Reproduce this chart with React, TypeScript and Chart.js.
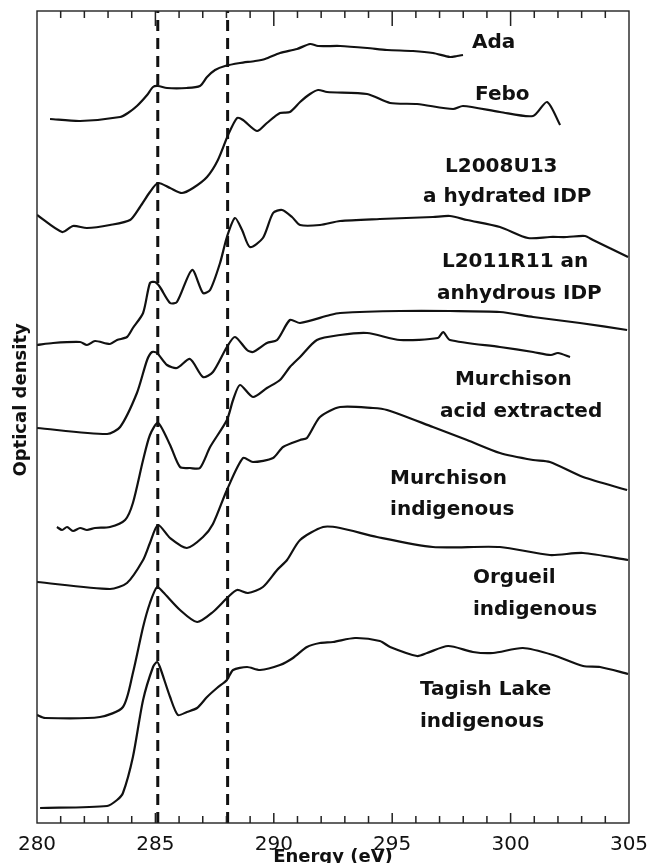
import React, { useEffect, useRef } from "react";
import { Chart, registerables } from "chart.js";

Chart.register(...registerables);

// ---- Data (energy in eV, optical density in arbitrary offset units) ----
const adaEnergy = [280.55, 281.82, 283.51, 283.84, 284.22, 284.65, 284.9, 285.11, 285.49, 286.33, 286.88, 287.18, 287.52, 287.94, 288.57, 289.21, 289.63, 290.26, 290.98, 291.53, 291.87, 292.8, 293.94, 294.78, 295.88, 296.72, 297.44, 297.74, 297.99];
const adaOD = [70.4, 70.2, 70.6, 71.0, 71.7, 72.8, 73.6, 73.7, 73.5, 73.5, 73.7, 74.6, 75.3, 75.7, 76.0, 76.2, 76.4, 77.0, 77.4, 77.9, 77.7, 77.7, 77.5, 77.3, 77.2, 77.0, 76.6, 76.7, 76.8];

const feboEnergy = [280.0, 281.06, 281.52, 282.11, 283.08, 283.93, 284.35, 284.77, 285.11, 285.62, 286.12, 286.59, 287.18, 287.64, 288.07, 288.45, 288.7, 289.29, 289.71, 290.26, 290.68, 291.11, 291.53, 291.87, 292.25, 293.94, 294.91, 296.05, 297.57, 297.99, 299.55, 300.95, 301.54, 302.09];
const feboOD = [60.8, 59.1, 59.7, 59.5, 59.8, 60.3, 61.6, 63.1, 64.0, 63.5, 63.0, 63.5, 64.6, 66.3, 68.8, 70.5, 70.3, 69.2, 70.0, 71.0, 71.1, 72.1, 72.9, 73.3, 73.1, 72.9, 72.0, 71.9, 71.4, 71.7, 71.1, 70.7, 72.1, 69.8];

const l2008Energy = [280.0, 280.68, 281.82, 282.11, 282.45, 283.08, 283.38, 283.8, 284.05, 284.48, 284.77, 284.98, 285.19, 285.62, 285.91, 286.55, 287.01, 287.31, 287.73, 288.02, 288.36, 288.66, 288.99, 289.54, 289.97, 290.35, 290.77, 291.11, 291.95, 292.8, 294.48, 296.72, 297.44, 298.16, 299.55, 300.73, 301.66, 302.38, 303.14, 303.48, 304.96];
const l2008OD = [47.8, 48.0, 48.1, 47.8, 48.2, 47.9, 48.3, 48.6, 49.5, 51.0, 54.0, 54.1, 53.6, 52.0, 52.1, 55.3, 53.0, 53.3, 56.0, 58.6, 60.5, 59.3, 57.6, 58.5, 61.0, 61.3, 60.6, 59.8, 59.8, 60.2, 60.4, 60.6, 60.7, 60.3, 59.6, 58.5, 58.6, 58.6, 58.7, 58.3, 56.6];

const l2011Energy = [280.0, 282.96, 283.51, 284.22, 284.65, 284.86, 285.07, 285.49, 285.91, 286.46, 287.01, 287.43, 288.02, 288.36, 288.87, 289.12, 289.71, 290.14, 290.68, 291.11, 292.37, 292.8, 295.33, 297.44, 299.55, 300.95, 302.93, 304.92];
const l2011OD = [39.5, 38.9, 39.6, 43.0, 46.3, 47.1, 47.0, 45.8, 45.5, 46.4, 44.6, 45.1, 47.6, 48.6, 47.3, 47.1, 48.0, 48.3, 50.3, 50.0, 50.8, 51.0, 51.2, 51.2, 51.1, 50.6, 50.0, 49.3];

const murchAcidEnergy = [280.84, 281.06, 281.27, 281.52, 281.82, 282.11, 282.45, 283.08, 283.72, 284.05, 284.48, 284.77, 285.11, 285.62, 286.04, 286.46, 286.88, 287.31, 288.02, 288.28, 288.57, 289.12, 289.71, 290.26, 290.68, 291.11, 291.82, 292.8, 293.94, 295.33, 296.93, 297.15, 297.44, 299.55, 300.95, 301.7, 302.0, 302.51];
const murchAcidOD = [29.6, 29.3, 29.6, 29.2, 29.5, 29.3, 29.5, 29.6, 30.3, 32.0, 36.3, 38.8, 40.0, 37.8, 35.6, 35.5, 35.5, 37.6, 40.3, 42.3, 43.8, 42.6, 43.5, 44.3, 45.6, 46.6, 48.3, 48.8, 49.0, 48.3, 48.5, 49.1, 48.3, 47.6, 47.1, 46.8, 47.0, 46.6];

const murchIndEnergy = [280.0, 283.08, 283.8, 284.48, 284.77, 285.11, 285.62, 286.33, 287.01, 287.43, 288.02, 288.7, 289.12, 289.97, 290.39, 291.11, 291.4, 291.95, 292.8, 294.19, 294.78, 296.72, 298.16, 299.55, 300.95, 301.66, 303.06, 304.92];
const murchIndOD = [24.1, 23.4, 24.0, 26.3, 28.0, 29.8, 28.5, 27.5, 28.6, 29.9, 33.3, 36.5, 36.1, 36.5, 37.6, 38.3, 38.5, 40.6, 41.6, 41.5, 41.3, 39.6, 38.3, 37.0, 36.3, 36.1, 34.6, 33.3];

const orgueilEnergy = [280.0, 280.34, 282.66, 283.63, 284.05, 284.48, 284.77, 285.07, 285.32, 286.04, 286.76, 287.43, 288.07, 288.45, 288.91, 289.54, 290.14, 290.56, 291.11, 292.08, 292.8, 294.36, 296.72, 299.55, 301.66, 303.06, 304.96];
const orgueilOD = [10.8, 10.5, 10.6, 11.6, 15.0, 19.6, 22.0, 23.6, 23.1, 21.3, 20.1, 21.1, 22.6, 23.3, 23.0, 23.6, 25.3, 26.3, 28.3, 29.6, 29.5, 28.6, 27.6, 27.6, 26.8, 27.0, 26.3];

const tagishEnergy = [280.13, 282.96, 283.38, 283.63, 284.05, 284.48, 284.9, 285.07, 285.19, 285.62, 285.95, 286.33, 286.76, 287.18, 287.6, 288.02, 288.28, 288.87, 289.42, 290.26, 290.81, 291.4, 291.95, 292.5, 293.43, 294.48, 294.91, 296.05, 296.47, 297.36, 298.41, 299.26, 300.52, 301.79, 303.06, 303.78, 304.96];
const tagishOD = [1.5, 1.7, 2.3, 3.0, 6.6, 12.3, 15.6, 16.1, 15.6, 12.6, 10.8, 11.1, 11.5, 12.6, 13.5, 14.3, 15.3, 15.6, 15.3, 15.8, 16.5, 17.6, 18.0, 18.1, 18.5, 18.2, 17.6, 16.7, 17.0, 17.7, 17.1, 17.0, 17.5, 16.8, 15.7, 15.6, 14.9];

const referenceEnergies = [285.1, 288.05];

const xMin = 280;
const xMax = 305;
const xStep = 5;
const yMin = 0;
const yMax = 81.2;

const labelTexts = ["Ada", "Febo", "L2008U13", "a hydrated IDP", "L2011R11 an", "anhydrous IDP", "Murchison", "acid extracted", "Murchison", "indigenous", "Orgueil", "indigenous", "Tagish Lake", "indigenous"];
const labelEnergy = [298.37, 298.5, 297.23, 296.3, 297.1, 296.89, 297.65, 297.02, 294.91, 294.91, 298.41, 298.41, 296.17, 296.17];
const labelOD = [77.5, 72.3, 65.1, 62.1, 55.6, 52.4, 43.8, 40.6, 33.9, 30.8, 24.0, 20.8, 12.8, 9.6];

const yTitle = "Optical density";

const seriesList = [
  { name: "Ada", e: adaEnergy, od: adaOD },
  { name: "Febo", e: feboEnergy, od: feboOD },
  { name: "L2008U13", e: l2008Energy, od: l2008OD },
  { name: "L2011R11", e: l2011Energy, od: l2011OD },
  { name: "Murchison acid extracted", e: murchAcidEnergy, od: murchAcidOD },
  { name: "Murchison indigenous", e: murchIndEnergy, od: murchIndOD },
  { name: "Orgueil indigenous", e: orgueilEnergy, od: orgueilOD },
  { name: "Tagish Lake indigenous", e: tagishEnergy, od: tagishOD },
];

const INK = "#111111";

const frameAndTicks = {
  id: "frameAndTicks",
  afterDatasetsDraw(chart: any) {
    const { ctx, chartArea } = chart;
    const xs = chart.scales.x;
    const { left, right, top, bottom } = chartArea;
    ctx.save();
    ctx.strokeStyle = "#222";
    ctx.lineWidth = 1.4;
    ctx.strokeRect(left, top, right - left, bottom - top);
    ctx.lineWidth = 1.5;
    for (let v = xMin + 1; v < xMax; v++) {
      const px = xs.getPixelForValue(v);
      const major = v % 5 === 0;
      const lenB = major ? 10 : 7;
      const lenT = major ? 15 : 7;
      ctx.beginPath();
      ctx.moveTo(px, bottom);
      ctx.lineTo(px, bottom - lenB);
      ctx.moveTo(px, top);
      ctx.lineTo(px, top + lenT);
      ctx.stroke();
    }
    ctx.restore();
  },
};

const curveLabels = {
  id: "curveLabels",
  afterDraw(chart: any) {
    const { ctx, chartArea } = chart;
    const xs = chart.scales.x;
    const ys = chart.scales.y;
    ctx.save();
    ctx.fillStyle = INK;
    ctx.font = "bold 20px 'DejaVu Sans'";
    ctx.textAlign = "left";
    ctx.textBaseline = "alphabetic";
    labelTexts.forEach((t, i) => {
      ctx.fillText(t, xs.getPixelForValue(labelEnergy[i]), ys.getPixelForValue(labelOD[i]));
    });
    // y-axis title
    ctx.font = "bold 18px 'DejaVu Sans'";
    ctx.textAlign = "center";
    ctx.textBaseline = "middle";
    ctx.translate(21, chartArea.top + (chartArea.bottom - chartArea.top) * 0.479);
    ctx.rotate(-Math.PI / 2);
    ctx.fillText(yTitle, 0, 0);
    ctx.restore();
  },
};

export default function App() {
  const ref = useRef<HTMLCanvasElement>(null);
  useEffect(() => {
    document.body.style.margin = "0";
    const canvas = ref.current;
    if (!canvas) return;
    const datasets: any[] = seriesList.map((s) => ({
      label: s.name,
      data: s.e.map((e, i) => ({ x: e, y: s.od[i] })),
      borderColor: INK,
      borderWidth: 2.2,
      pointRadius: 0,
      tension: 0.25,
      fill: false,
    }));
    referenceEnergies.forEach((e) => {
      datasets.push({
        label: "ref " + e,
        data: [
          { x: e, y: yMin },
          { x: e, y: yMax },
        ],
        borderColor: INK,
        borderWidth: 3,
        borderDash: [11, 7],
        pointRadius: 0,
        fill: false,
      });
    });
    const chart = new Chart(canvas, {
      type: "line",
      data: { datasets },
      options: {
        animation: false,
        responsive: false,
        devicePixelRatio: 1,
        layout: { padding: { top: 11, right: 19, left: 0, bottom: 0 } },
        plugins: { legend: { display: false }, tooltip: { enabled: false } },
        scales: {
          x: {
            type: "linear",
            min: xMin,
            max: xMax,
            grid: { display: false },
            border: { display: false },
            ticks: {
              stepSize: xStep,
              color: INK,
              padding: 2,
              maxRotation: 0,
              autoSkip: false,
              font: { family: "'DejaVu Sans'", size: 20 },
              callback: (v: any) => String(v),
            },
            title: {
              display: true,
              text: "Energy (eV)",
              color: INK,
              font: { family: "'DejaVu Sans'", size: 18, weight: "bold" },
              padding: { top: 0, bottom: -5 },
            },
            afterFit: (s: any) => {
              s.height = 40;
              s.paddingLeft = 0;
              s.paddingRight = 0;
            },
          },
          y: {
            type: "linear",
            min: yMin,
            max: yMax,
            grid: { display: false },
            border: { display: false },
            ticks: { display: false },
            title: { display: false },
            afterFit: (s: any) => {
              s.width = 37;
              s.paddingTop = 0;
              s.paddingBottom = 0;
            },
          },
        },
      },
      plugins: [frameAndTicks, curveLabels],
    });
    return () => chart.destroy();
  }, []);
  return (
    <div style={{ width: 648, height: 863 }}>
      <canvas ref={ref} width={648} height={863} style={{ display: "block", width: 648, height: 863 }} />
    </div>
  );
}
